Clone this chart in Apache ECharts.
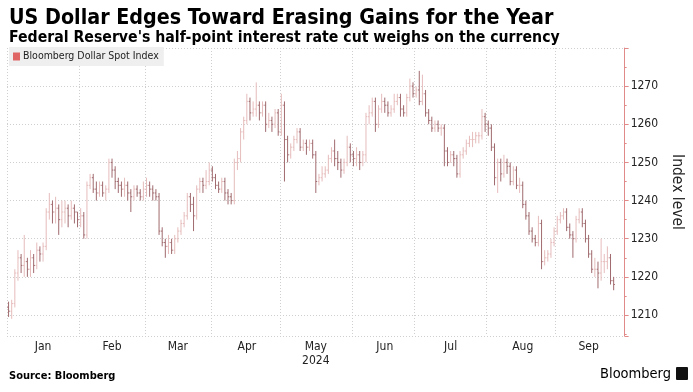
<!DOCTYPE html>
<html><head><meta charset="utf-8">
<script src="https://cdn.jsdelivr.net/npm/echarts@6/dist/echarts.min.js"></script>
<style>html,body{margin:0;padding:0;background:#fff}#c{width:693px;height:392px}</style>
</head><body><div id="c"></div>
<script>
// Weekday categories Jan 1 - Oct 1, 2024
const startDate = '2024-01-01', endDate = '2024-10-01';
const monthNames = ['Jan','Feb','Mar','Apr','May','Jun','Jul','Aug','Sep','Oct'];
const yearLabel = '2024';
const seriesName = 'Bloomberg Dollar Spot Index';

const openVals = [1212,1211,1213,1221,1225,1223,1224,1222,1225,1223,1227,1226,
1228,1237,1239,1237,1238,1235,1237,1238,1236,1238,1237,1235,
1236,1231,1244,1246,1243,1242,1244,1242,
1243,1250,1248,1245,1244,1243,1244,1242,1241,1243,1242,1241,
1243,1244,1243,1242,1241,1232,1229,1228,1229,1227,1230,1232,1234,1236,1241,1239,1236,1243,1245,1244,
1245,1248,1246,1244,1243,1245,1242,1241,
1240,1250,1251,1258,1261,1266,1263,1264,1265,1263,1265,1260,1261,1260,1263,1258,
1265,1256,1252,1254,1256,1258,1254,1255,1254,1255,1252,1245,1246,1247,1248,1251,1253,1251,1250,1248,
1250,1254,1252,1251,1252,1250,
1252,1262,1263,1266,1260,1264,1266,1265,1263,1264,1266,1267,1264,1263,1267,1270,1268,1269,1266,
1268,1263,1261,1259,1260,1259,1259,1253,1250,1252,1251,1247,1252,1253,1255,1256,1256,1257,1257,1262,1260,1259,
1254,1246,1250,1247,1250,1249,1245,1248,1244,1244,1239,1236,1232,1230,1229,
1234,1224,1225,1226,1229,1232,1235,1236,1237,1233,1231,1230,1235,1237,1234,1230,1226,1222,1222,1221,1224,1224,1225,1219];

const closeVals = [1211,1213,1221,1225,1223,1224,1222,1225,1223,1227,1226,1228,
1237,1239,1237,1238,1235,1237,1238,1236,1238,1237,1235,1236,
1231,1244,1246,1243,1242,1244,1242,1243,
1250,1248,1245,1244,1243,1244,1242,1241,1243,1242,1241,1243,
1244,1243,1242,1241,1232,1229,1228,1229,1227,1230,1232,1234,1236,1241,1239,1236,1243,1245,1244,1245,
1248,1246,1244,1243,1245,1242,1241,1240,
1250,1251,1258,1261,1266,1263,1264,1265,1263,1265,1260,1261,1260,1263,1258,1265,
1256,1252,1254,1256,1258,1254,1255,1254,1255,1252,1245,1246,1247,1248,1251,1253,1251,1250,1248,1250,
1254,1252,1251,1252,1250,1252,
1262,1263,1266,1260,1264,1266,1265,1263,1264,1266,1267,1264,1263,1267,1270,1268,1269,1266,1268,
1263,1261,1259,1260,1259,1259,1253,1250,1252,1251,1247,1252,1253,1255,1256,1256,1257,1257,1262,1260,1259,1254,
1246,1250,1247,1250,1249,1245,1248,1244,1244,1239,1236,1232,1230,1229,1234,
1224,1225,1226,1229,1232,1235,1236,1237,1233,1231,1230,1235,1237,1234,1230,1226,1222,1222,1221,1224,1224,1225,1219,1218];

const lowVals = [1209.5,1209,1212,1219,1221,1220,1220,1220,1221,1222,1224,1224,
1227,1235,1234,1234,1231,1233,1234,1233,1235,1234,1233,1233,
1230,1230,1243,1242,1240,1241,1241,1240,
1242,1246,1243,1242,1241,1241,1240,1237,1240,1241,1240,1240,
1241,1241,1240,1240,1231,1228,1225,1226,1226,1226,1229,1231,1233,1235,1237,1232,1235,1242,1242,1243,
1244,1245,1243,1242,1242,1240,1239,1239,
1239,1248,1250,1256,1260,1261,1262,1262,1261,1262,1258,1259,1258,1259,1257,1257,
1245,1250,1251,1253,1255,1253,1253,1252,1253,1251,1242,1244,1245,1246,1247,1250,1249,1248,1246,1247,
1249,1250,1249,1249,1248,1249,
1250,1260,1262,1258,1259,1263,1263,1262,1262,1263,1265,1262,1262,1262,1266,1267,1267,1265,1265,
1262,1260,1258,1258,1258,1257,1249,1249,1250,1249,1246,1246,1251,1252,1254,1254,1255,1255,1256,1258,1257,1253,
1244,1242,1245,1246,1247,1244,1244,1243,1242,1238,1235,1231,1229,1228,1228,
1222,1223,1224,1225,1228,1231,1234,1235,1232,1230,1225,1229,1234,1233,1229,1225,1221,1220,1217,1219,1221,1222,1218,1216.5];

const highVals = [1213.5,1214,1222,1227,1226,1231,1225,1227,1226,1229,1228,1229,
1238,1242,1240,1241,1239,1240,1240,1239,1240,1239,1237,1238,
1237,1245,1247,1247,1245,1245,1245,1244,
1251,1251,1249,1246,1245,1246,1245,1243,1244,1244,1243,1245,
1246,1245,1244,1243,1242,1233,1230,1231,1230,1231,1233,1235,1237,1242,1242,1241,1244,1246,1246,1248,
1250,1249,1247,1245,1246,1246,1243,1242,
1251,1253,1259,1262,1268,1267,1266,1271,1266,1266,1266,1263,1262,1264,1264,1268,
1266,1257,1255,1257,1259,1259,1256,1256,1256,1256,1253,1247,1249,1249,1252,1254,1256,1253,1251,1251,
1257,1255,1253,1254,1253,1253,
1263,1265,1267,1267,1265,1268,1267,1266,1265,1268,1268,1268,1265,1268,1272,1271,1270,1274,1273,
1269,1264,1262,1261,1261,1260,1260,1254,1253,1253,1252,1253,1254,1256,1257,1258,1258,1258,1264,1263,1261,1260,
1255,1251,1251,1252,1251,1250,1249,1249,1246,1245,1240,1237,1233,1231,1236,
1235,1227,1227,1230,1233,1236,1237,1238,1238,1234,1232,1236,1238,1238,1235,1231,1227,1225,1224,1230,1226,1228,1226,1220];

// build weekday category list
const dates = [];
(function(){
  const d = new Date(startDate + 'T00:00:00Z'), e = new Date(endDate + 'T00:00:00Z');
  while (d <= e) {
    const wd = d.getUTCDay();
    if (wd !== 0 && wd !== 6) dates.push(d.toISOString().slice(0,10));
    d.setUTCDate(d.getUTCDate() + 1);
  }
})();
const monthOf = s => parseInt(s.slice(5,7),10) - 1;
const monthStart = new Set(), monthMid = new Set();
(function(){
  const groups = {};
  dates.forEach((s,i)=>{ const m = monthOf(s); (groups[m] = groups[m] || []).push(i); });
  Object.keys(groups).forEach(m => {
    if (+m > 8) return;
    const g = groups[m]; monthStart.add(g[0]); monthMid.add(g[Math.floor(g.length/2)]);
  });
})();

const ohlc = closeVals.map((c,i)=>[i, openVals[i], c, lowVals[i], highVals[i]]);

const UP = '#e6bcbc', DOWN = '#a06a6e';
function renderItem(params, api){
  const x = api.value(0), o = api.value(1), c = api.value(2), l = api.value(3), h = api.value(4);
  const pH = api.coord([x,h]), pL = api.coord([x,l]), pO = api.coord([x,o]), pC = api.coord([x,c]);
  const w = api.size([1,0])[0]*0.4;
  const color = c >= o ? UP : DOWN;
  const st = {stroke: color, lineWidth: 1};
  return {type:'group', children:[
    {type:'line', shape:{x1:pH[0], y1:pH[1], x2:pL[0], y2:pL[1]}, style:st},
    {type:'line', shape:{x1:pO[0]-w, y1:pO[1], x2:pO[0], y2:pO[1]}, style:st},
    {type:'line', shape:{x1:pC[0], y1:pC[1], x2:pC[0]+w, y2:pC[1]}, style:st}
  ]};
}

const FONT = 'DejaVu Sans Condensed';
const chart = echarts.init(document.getElementById('c'), null, {renderer:'canvas'});
chart.setOption({
  animation: false,
  backgroundColor: '#fff',
  textStyle: {fontFamily: FONT},
  title: [
    {text: 'US Dollar Edges Toward Erasing Gains for the Year', left: 4, top: 3,
     textStyle: {fontFamily: FONT, fontWeight: 'bold', fontSize: 21.3, color: '#000'}},
    {text: "Federal Reserve's half-point interest rate cut weighs on the currency", left: 4, top: 25,
     textStyle: {fontFamily: FONT, fontWeight: 'bold', fontSize: 15.7, color: '#000'}},
    {text: 'Source: Bloomberg', left: 4, top: 366,
     textStyle: {fontFamily: FONT, fontWeight: 'bold', fontSize: 11, color: '#000'}},
    {text: 'Bloomberg', right: 17, top: 362,
     textStyle: {fontFamily: FONT, fontWeight: 'normal', fontSize: 14.5, color: '#000'}}
  ],
  legend: {
    left: 9, top: 47, padding: [4, 5, 4, 4],
    backgroundColor: '#efefef', itemWidth: 7, itemHeight: 8, icon: 'rect', itemGap: 3,
    textStyle: {fontFamily: FONT, fontSize: 10.5, color: '#222', padding: [0,0,0,-2]},
    data: [{name: seriesName, itemStyle: {color: '#e06666'}}]
  },
  grid: {left: 7, right: 57, top: 48, bottom: 56, containLabel: false},
  xAxis: {
    type: 'category', data: dates, boundaryGap: true,
    axisLine: {show: false}, axisTick: {show: false},
    splitLine: {show: true, interval: (i) => monthStart.has(i), lineStyle: {color: '#cfcfcf', type: [1,2], width: 1}},
    axisLabel: {
      interval: (i) => monthMid.has(i), margin: 4, color: '#222', fontSize: 12, fontFamily: FONT,
      lineHeight: 14,
      formatter: (v) => { const m = monthOf(v); return m === 4 ? monthNames[m] + '\n' + yearLabel : monthNames[m]; }
    }
  },
  yAxis: {
    type: 'value', position: 'right', min: 1204.5, max: 1280, splitNumber: 8, scale: true,
    name: 'Index level', nameLocation: 'middle', nameRotate: -90, nameGap: 43,
    nameTextStyle: {fontFamily: FONT, fontSize: 15.5, color: '#222'},
    axisLine: {show: true, lineStyle: {color: '#e08a8a', width: 1}},
    axisTick: {show: true, length: 4, lineStyle: {color: '#e08a8a'}},
    minorTick: {show: true, splitNumber: 2, length: 2, lineStyle: {color: '#e08a8a'}},
    axisLabel: {color: '#222', fontSize: 12, margin: 6, fontFamily: FONT,
      formatter: (v) => (Math.abs(v % 10) < 1e-6 && v < 1280) ? String(v) : ''},
    splitLine: {show: true, lineStyle: {color: '#cfcfcf', type: [1,2], width: 1}}
  },
  graphic: [
    {type: 'rect', right: 5, top: 367, shape: {width: 12, height: 13, r: 1}, style: {fill: '#111'}}
  ],
  series: [{
    name: seriesName, type: 'custom', renderItem: renderItem,
    itemStyle: {color: '#e06666'},
    encode: {x: 0, y: [1,2,3,4]},
    data: ohlc, clip: true
  }]
});
</script></body></html>
